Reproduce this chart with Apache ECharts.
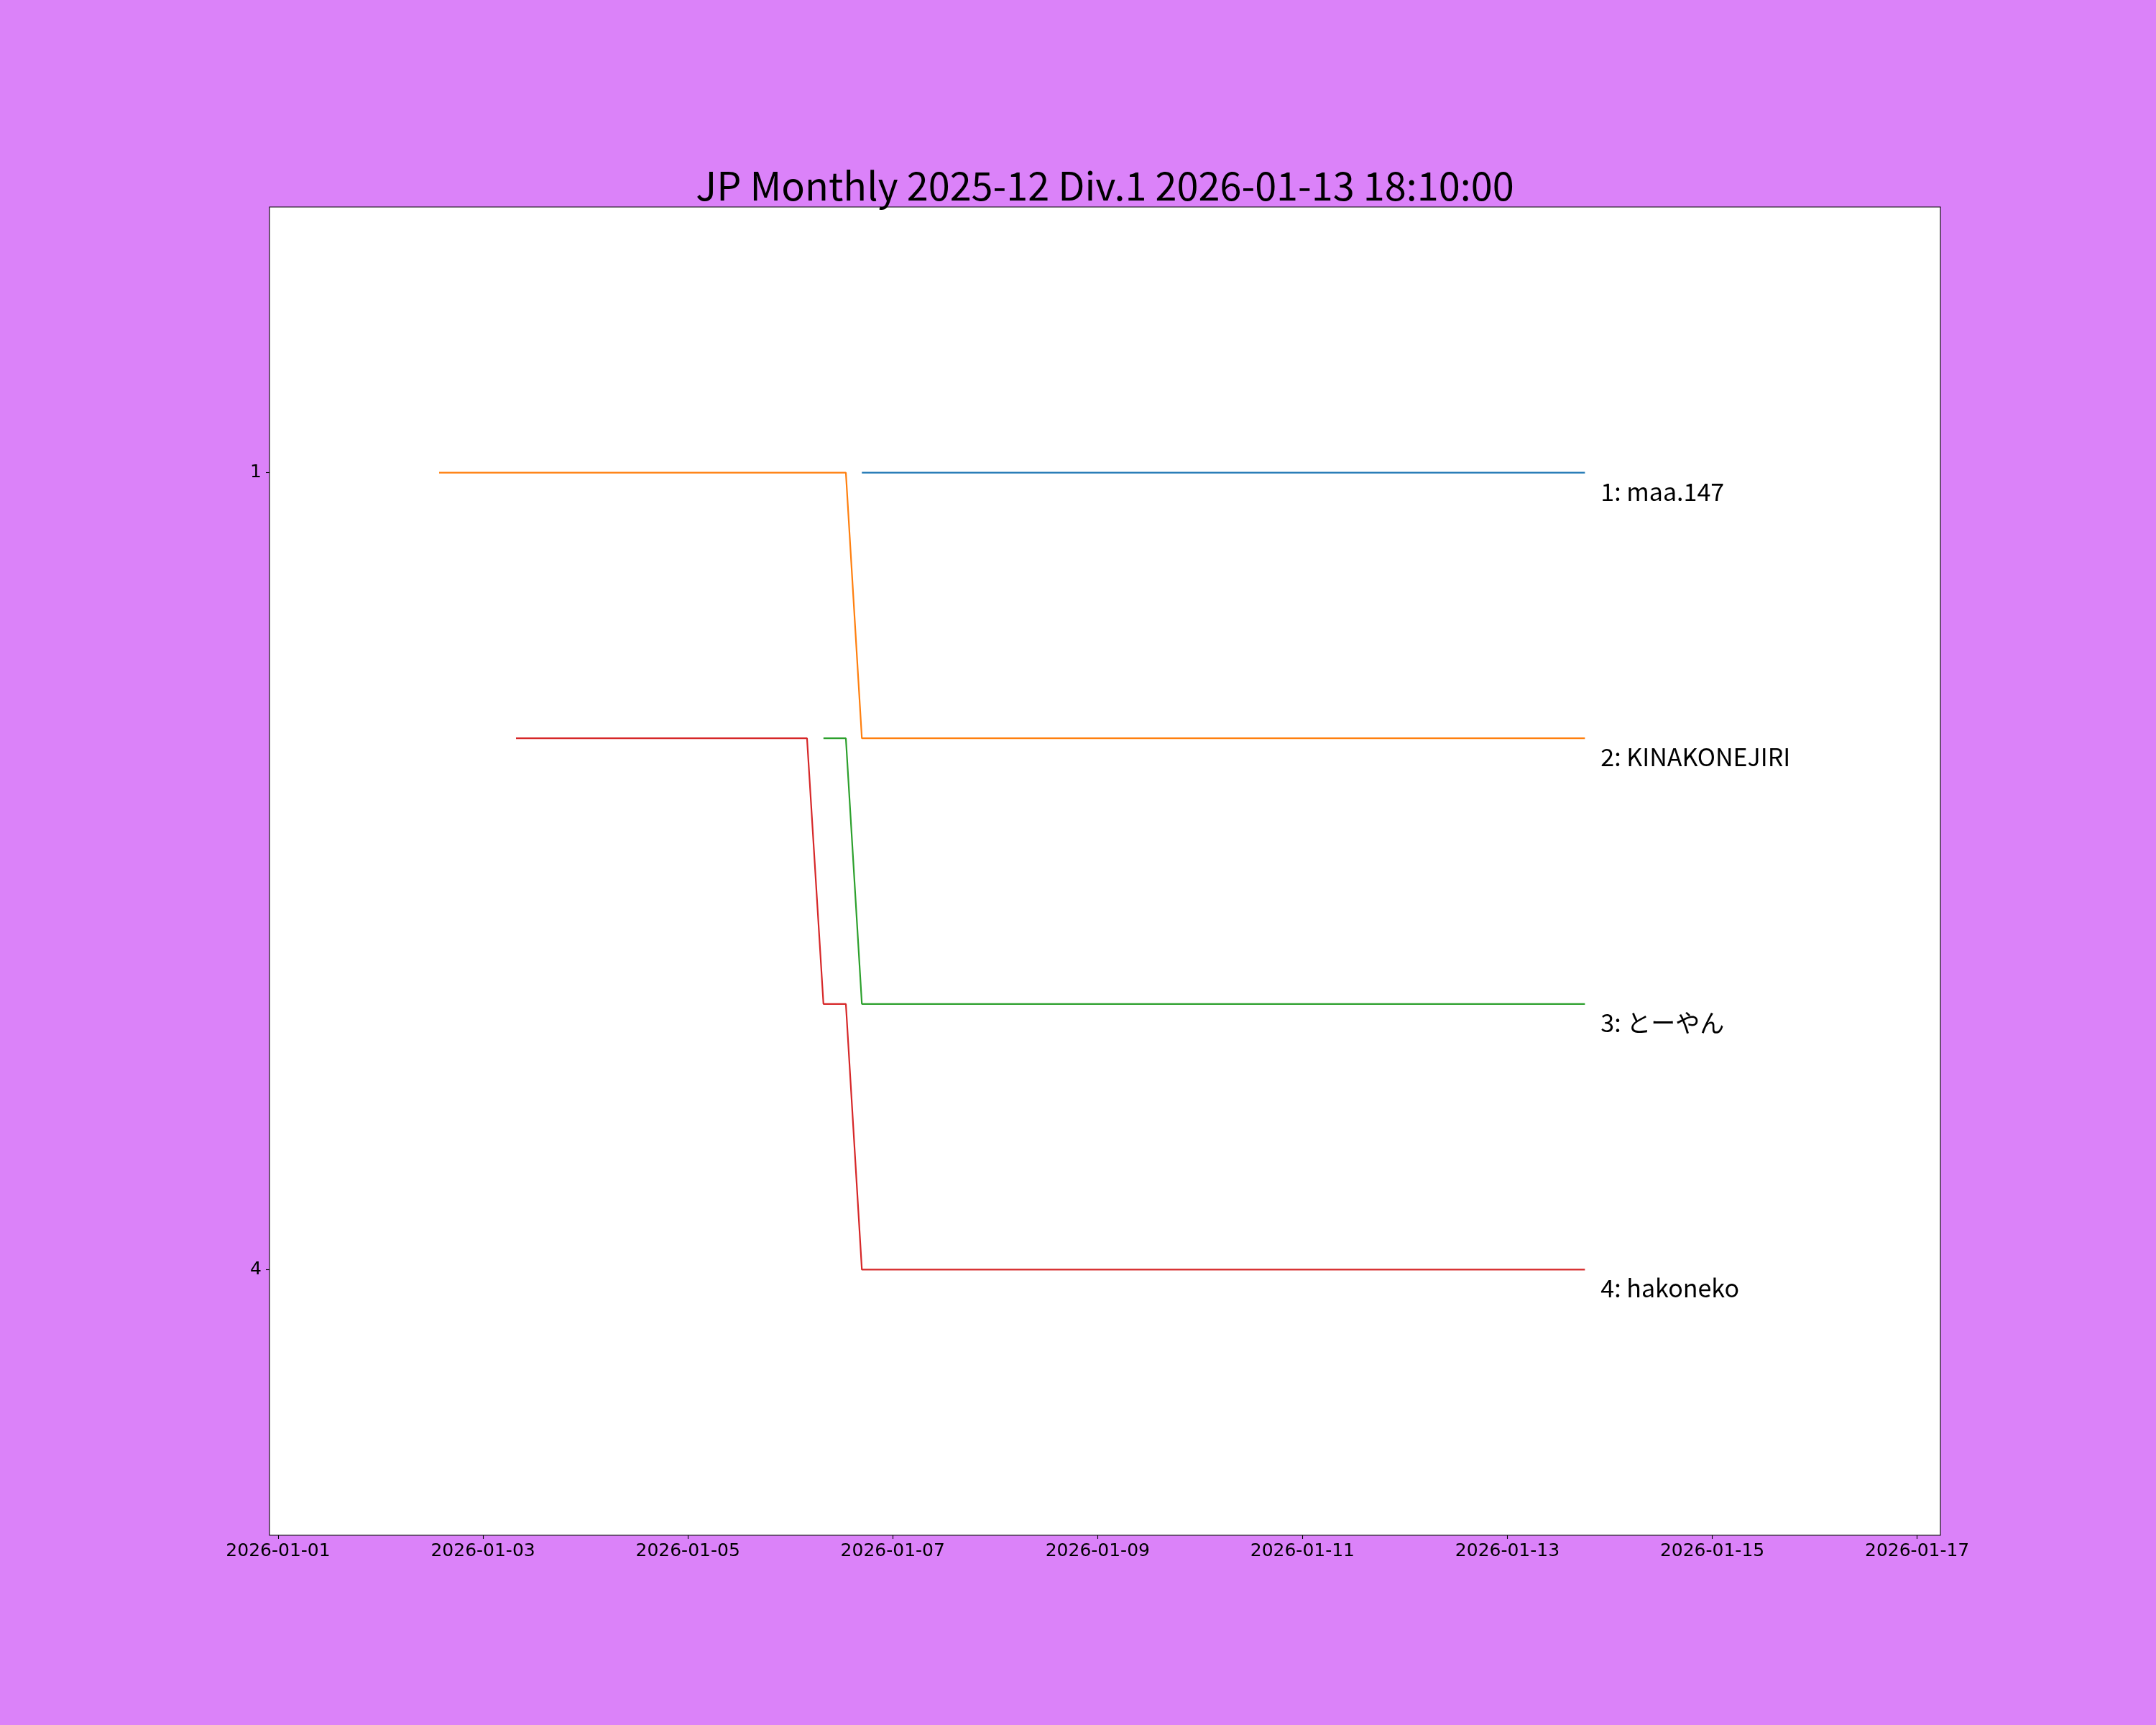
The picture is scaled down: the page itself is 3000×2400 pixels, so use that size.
<!DOCTYPE html>
<html>
<head>
<meta charset="utf-8">
<script src="https://cdn.jsdelivr.net/npm/echarts@6/dist/echarts.min.js"></script>
<style>
html,body{margin:0;padding:0;background:#db82f9;}
#chart{width:3000px;height:2400px;}
</style>
</head>
<body>
<div id="chart"></div>
<script>
var titleText = 'JP Monthly 2025-12 Div.1 2026-01-13 18:10:00';
var names = ['1: maa.147', '2: KINAKONEJIRI', '3: とーやん', '4: hakoneko'];
var colors = ['#1f77b4', '#ff7f0e', '#2ca02c', '#d62728'];

// rank over time, one pair of arrays per player
var maaTimes = ['2026-01-06 16:46', '2026-01-13 18:10'];
var maaRanks = [1, 1];
var kinaTimes = ['2026-01-02 13:43', '2026-01-06 13:01', '2026-01-06 16:46', '2026-01-13 18:10'];
var kinaRanks = [1, 1, 2, 2];
var toyanTimes = ['2026-01-06 07:46', '2026-01-06 13:01', '2026-01-06 16:46', '2026-01-13 18:10'];
var toyanRanks = [2, 2, 3, 3];
var hakoTimes = ['2026-01-03 07:44', '2026-01-06 03:55', '2026-01-06 07:46', '2026-01-06 13:01', '2026-01-06 16:46', '2026-01-13 18:10'];
var hakoRanks = [2, 2, 3, 3, 4, 4];

var xTicks = ['2026-01-01', '2026-01-03', '2026-01-05', '2026-01-07', '2026-01-09',
              '2026-01-11', '2026-01-13', '2026-01-15', '2026-01-17'];
var yTicks = [1, 4];
var xMin = '2025-12-31 21:59';
var xMax = '2026-01-17 05:27';

function ts(s){
    var p = s.split(/[- :]/);
    return new Date(+p[0], +p[1]-1, +p[2], +(p[3]||0), +(p[4]||0)).getTime();
}
function pad(n){ return (n<10?'0':'')+n; }
function pairs(times, ranks){
    return times.map(function(t, i){ return [ts(t), ranks[i]]; });
}

var seriesData = [
    pairs(maaTimes, maaRanks),
    pairs(kinaTimes, kinaRanks),
    pairs(toyanTimes, toyanRanks),
    pairs(hakoTimes, hakoRanks)
];

var chart = echarts.init(document.getElementById('chart'));
chart.setOption({
    animation: false,
    backgroundColor: '#db82f9',
    title: {
        text: titleText,
        left: 1537.5,
        textAlign: 'center',
        top: 231,
        padding: 0,
        textStyle: {fontFamily: 'Noto Sans CJK JP', fontSize: 54, fontWeight: 'normal', color: '#000'}
    },
    grid: {
        left: 375, right: 300, top: 288, bottom: 264,
        show: true, backgroundColor: '#fff', borderColor: '#000', borderWidth: 1.1
    },
    xAxis: {
        type: 'value',
        min: ts(xMin),
        max: ts(xMax),
        axisLine: {show: false, onZero: false},
        splitLine: {show: false},
        axisTick: {show: true, length: 5, lineStyle: {color: '#000', width: 1.1}, customValues: xTicks.map(ts)},
        axisLabel: {
            customValues: xTicks.map(ts),
            margin: 10,
            fontFamily: 'DejaVu Sans', fontSize: 25, color: '#000',
            formatter: function(v){
                var d = new Date(v);
                return d.getFullYear()+'-'+pad(d.getMonth()+1)+'-'+pad(d.getDate());
            }
        }
    },
    yAxis: {
        type: 'value',
        inverse: true,
        min: 0,
        max: 5,
        axisLine: {show: false, onZero: false},
        splitLine: {show: false},
        axisTick: {show: true, length: 5, lineStyle: {color: '#000', width: 1.1}, customValues: yTicks},
        axisLabel: {customValues: yTicks, margin: 11, fontFamily: 'DejaVu Sans', fontSize: 25, color: '#000'}
    },
    series: seriesData.map(function(d, i){
        return {
            type: 'line',
            name: names[i],
            data: d,
            symbol: 'none',
            lineStyle: {color: colors[i], width: 2.2},
            itemStyle: {color: colors[i]},
            endLabel: {
                show: true,
                formatter: names[i],
                distance: 0,
                offset: [22, 26],
                align: 'left',
                verticalAlign: 'middle',
                color: '#000',
                fontFamily: 'Noto Sans CJK JP',
                fontSize: 34
            }
        };
    })
});
</script>
</body>
</html>
